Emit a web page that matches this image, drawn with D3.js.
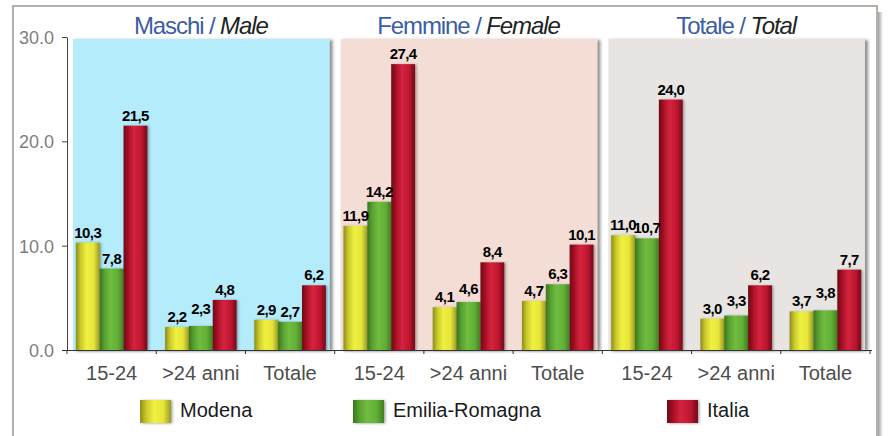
<!DOCTYPE html>
<html lang="it">
<head>
<meta charset="utf-8">
<title>Tasso di disoccupazione</title>
<script src="https://cdn.jsdelivr.net/npm/d3@7"></script>
<style>
  body { margin: 0; background: #fff; }
  svg { display: block; }
</style>
</head>
<body>
<script>
// data
const panels   = ["Maschi", "Femmine", "Totale"];
const panelsEn = ["Male", "Female", "Total"];
const ages     = ["15-24", ">24 anni", "Totale"];
const series   = ["Modena", "Emilia-Romagna", "Italia"];
const modena   = [10.3, 2.2, 2.9, 11.9, 4.1, 4.7, 11.0, 3.0, 3.7];
const emilia   = [7.8, 2.3, 2.7, 14.2, 4.6, 6.3, 10.7, 3.3, 3.8];
const italia   = [21.5, 4.8, 6.2, 27.4, 8.4, 10.1, 24.0, 6.2, 7.7];
const yTicks   = [0, 10, 20, 30];

const panelFill = ["#b4ecfc", "#f4ddd5", "#e8e4e1"];
const W = 888, H = 436;

var svg = d3.select("body").append("svg")
  .attr("width", W).attr("height", H);

var defs = svg.append("defs");

// cylinder-like gradients for the bars
var grads = [
  ["g-modena", ["#8c8c1c", "#c9c92c", "#f0f040", "#e6e63a", "#9a9a22"]],
  ["g-emilia", ["#3a751e", "#58a030", "#70bc40", "#62b036", "#427e22"]],
  ["g-italia", ["#6a0612", "#a81026", "#d4243e", "#c01630", "#74081a"]]
];
grads.forEach(function(g) {
  var lg = defs.append("linearGradient").attr("id", g[0])
    .attr("x1", "0%").attr("x2", "100%").attr("y1", "0%").attr("y2", "0%");
  var offs = [0, 0.2, 0.45, 0.75, 1];
  g[1].forEach(function(c, i) {
    lg.append("stop").attr("offset", offs[i]).attr("stop-color", c);
  });
});

var fShadow = defs.append("filter").attr("id", "barShadow")
  .attr("x", "-20%").attr("y", "-10%").attr("width", "150%").attr("height", "120%");
fShadow.append("feDropShadow").attr("dx", 1.5).attr("dy", 0.5)
  .attr("stdDeviation", 1).attr("flood-color", "#333").attr("flood-opacity", 0.45);

var pShadow = defs.append("filter").attr("id", "panelShadow")
  .attr("x", "-5%").attr("y", "-5%").attr("width", "115%").attr("height", "110%");
pShadow.append("feDropShadow").attr("dx", 3).attr("dy", 1)
  .attr("stdDeviation", 1.5).attr("flood-color", "#444").attr("flood-opacity", 0.6);

var frameShadow = defs.append("linearGradient").attr("id", "frameShadow")
  .attr("x1", "0%").attr("x2", "100%");
frameShadow.append("stop").attr("offset", 0).attr("stop-color", "#8a8a8a");
frameShadow.append("stop").attr("offset", 1).attr("stop-color", "#ffffff");

// outer frame
svg.append("rect").attr("x", 877).attr("y", 12).attr("width", 6).attr("height", H)
  .attr("fill", "url(#frameShadow)");
svg.append("rect").attr("x", 13).attr("y", 6).attr("width", 864).attr("height", H + 10)
  .attr("fill", "#fff").attr("stroke", "#b6aea8").attr("stroke-width", 2);

// scales
var keys = [];
panels.forEach(function(p) { ages.forEach(function(a) { keys.push(p + "|" + a); }); });

var x0 = d3.scaleBand().domain(keys).range([67, 870]);
var x1 = d3.scaleBand().domain(series).range([0, x0.bandwidth()]).paddingOuter(0.37);
var y = d3.scaleLinear().domain([0, 30]).range([350, 37]);
var color = d3.scaleOrdinal().domain(series).range(["url(#g-modena)", "url(#g-emilia)", "url(#g-italia)"]);

// panels
var pw = x0.step() * ages.length;
svg.selectAll("rect.panel").data(panels).enter().append("rect")
  .attr("class", "panel")
  .attr("x", (d, i) => x0(d + "|" + ages[0]) + 6)
  .attr("y", y(30) + 2)
  .attr("width", pw - 11)
  .attr("height", y(0) - y(30) - 2)
  .attr("fill", (d, i) => panelFill[i])
  .attr("filter", "url(#panelShadow)");

// panel titles
var titles = svg.selectAll("text.title").data(panels).enter().append("text")
  .attr("class", "title")
  .attr("x", (d, i) => x0(d + "|" + ages[0]) + pw / 2)
  .attr("y", 34)
  .attr("text-anchor", "middle")
  .style("font-family", "'Liberation Sans', Arial, sans-serif")
  .style("font-size", "24px")
  .style("letter-spacing", "-1.1px");
titles.append("tspan").attr("fill", "#3d5da6").text(d => d);
titles.append("tspan").attr("fill", "#3d5da6").text(" / ");
titles.append("tspan").attr("fill", "#222").style("font-style", "italic")
  .text((d, i) => panelsEn[i]);

// bars
var rows = keys.map(function(k, i) {
  return { key: k, vals: [modena[i], emilia[i], italia[i]] };
});

var groups = svg.selectAll("g.grp").data(rows).enter().append("g")
  .attr("class", "grp")
  .attr("transform", d => "translate(" + x0(d.key) + ",0)");

groups.selectAll("rect").data(d => d.vals.map((v, j) => ({ s: series[j], v: v })))
  .enter().append("rect")
  .attr("x", d => x1(d.s))
  .attr("y", d => y(d.v))
  .attr("width", x1.bandwidth())
  .attr("height", d => y(0) - y(d.v))
  .attr("fill", d => color(d.s))
  .attr("filter", "url(#barShadow)");

// value labels, nudged up when they would collide with the neighbour
var fmt = v => d3.format(".1f")(v).replace(".", ",");
groups.each(function(d) {
  var g = d3.select(this);
  var prevY = null, prevV = null;
  d.vals.forEach(function(v, j) {
    var ly = y(v) - 5;
    if (prevY !== null && v >= prevV && Math.abs(ly - prevY) < 11) ly = prevY - 8;
    g.append("text")
      .attr("x", x1(series[j]) + x1.bandwidth() / 2)
      .attr("y", ly)
      .attr("text-anchor", "middle")
      .style("font-family", "'Liberation Sans', Arial, sans-serif")
      .style("font-weight", "bold")
      .style("font-size", "15px")
      .style("letter-spacing", "-0.6px")
      .attr("fill", "#000")
      .text(fmt(v));
    prevY = ly; prevV = v;
  });
});

// y axis
var yAxis = svg.append("g").attr("transform", "translate(67,0)")
  .call(d3.axisLeft(y).tickValues(yTicks).tickFormat(d3.format(".1f")).tickSize(5).tickSizeOuter(0));
yAxis.select(".domain").attr("stroke", "#444");
yAxis.selectAll(".tick line").attr("stroke", "#444");
yAxis.selectAll(".tick text")
  .attr("x", -13).attr("dy", "0.36em")
  .attr("fill", "#7e7e7e")
  .style("font-family", "'Liberation Sans', Arial, sans-serif")
  .style("font-size", "18px");

// x axis
var xAxis = svg.append("g").attr("transform", "translate(0,350)")
  .call(d3.axisBottom(x0).tickSize(0).tickFormat(k => k.split("|")[1]));
xAxis.select(".domain").attr("stroke", "#333").attr("d", "M62,0.5H872");
xAxis.selectAll(".tick text")
  .attr("y", 30).attr("dy", 0)
  .attr("fill", "#4d4d4d")
  .style("font-family", "'Liberation Sans', Arial, sans-serif")
  .style("font-size", "20px");
xAxis.selectAll("line.sep").data(keys.concat(["end"])).enter().append("line")
  .attr("class", "sep")
  .attr("x1", (d, i) => i < keys.length ? x0(d) : x0.range()[1])
  .attr("x2", (d, i) => i < keys.length ? x0(d) : x0.range()[1])
  .attr("y1", 0).attr("y2", 4)
  .attr("stroke", "#333");

// legend
var legX = [140, 353, 667];
var leg = svg.selectAll("g.leg").data(series).enter().append("g")
  .attr("class", "leg")
  .attr("transform", (d, i) => "translate(" + legX[i] + ",400)");
leg.append("rect").attr("width", 31).attr("height", 23)
  .attr("fill", d => color(d)).attr("filter", "url(#barShadow)");
leg.append("text").attr("x", 40).attr("y", 17)
  .attr("fill", "#1a1a1a")
  .style("font-family", "'Liberation Sans', Arial, sans-serif")
  .style("font-size", "20px")
  .text(d => d);
</script>
</body>
</html>
